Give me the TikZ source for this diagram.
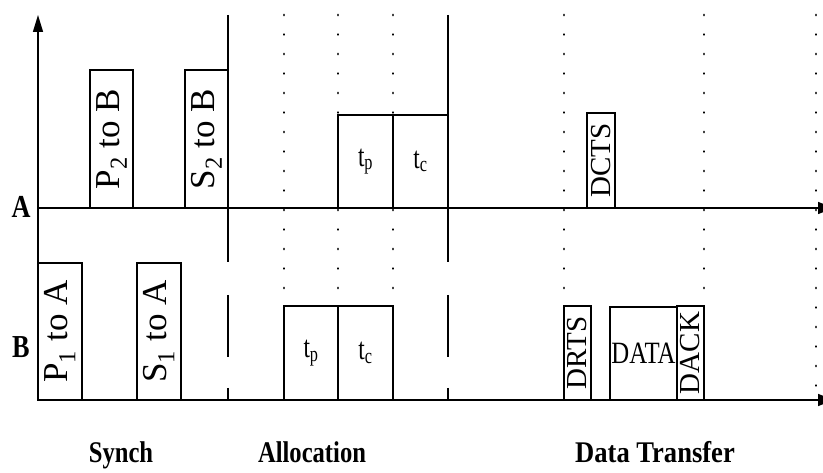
\documentclass[tikz,border=0pt]{standalone}
\usepackage{fontspec}
\setmainfont{Liberation Serif}
\usetikzlibrary{arrows.meta}

\begin{document}
\begin{tikzpicture}[x=1pt, y=-1pt]
  \tikzset{
    caja/.style={draw, line width=1.8pt, inner sep=0pt},
    cajav/.style={caja, rotate=90, font=\fontsize{35}{35}\selectfont},
    cajat/.style={caja, font=\fontsize{31}{31}\selectfont},
    eje/.style={line width=1.4pt},
    fase/.style={line width=2.6pt, dash pattern=on 247pt off 33pt on 62pt off 31pt on 12pt},
    punteado/.style={line width=2.8pt, line cap=round, dash pattern=on 0.01pt off 19.49pt},
    letra/.style={font=\bfseries\fontsize{30}{30}\selectfont, xscale=0.82}
  }
  \useasboundingbox (0,0) rectangle (823,473);

  % Líneas de puntos
  \foreach \x in {284,338,393,564,704,816}
    \draw[punteado] (\x,15) -- (\x,400);

  % Ejes
  \coordinate (origen) at (38,400);
  \coordinate (arriba) at (38,15);
  \coordinate (a0) at (38,208);
  \coordinate (a1) at (834,208);
  \coordinate (b1) at (834,400);
  \draw[eje, -{Triangle[length=17pt, width=10pt]}] (origen) -- (arriba);
  \draw[eje, -{Triangle[length=16pt, width=12pt]}] (a0) -- (a1);
  \draw[eje, -{Triangle[length=16pt, width=12pt]}] (origen) -- (b1);

  % Separadores de fases
  \coordinate (s1) at (228,15);
  \coordinate (s1b) at (228,400);
  \coordinate (s2) at (448,15);
  \coordinate (s2b) at (448,400);
  \draw[fase] (s1) -- (s1b);
  \draw[fase] (s2) -- (s2b);

  % Tramas de A
  \node[cajav, minimum width=138, minimum height=43] (p2b) at (111.5,139) {P\textsubscript{2} to B};
  \node[cajav, minimum width=138, minimum height=43] (s2b) at (206.5,139) {S\textsubscript{2} to B};
  \node[cajat, minimum width=55, minimum height=93] (tpA) at (365.5,161.5) {\scalebox{0.75}[1]{t\textsubscript{p}}};
  \node[cajat, minimum width=55, minimum height=93] (tcA) at (420.5,161.5) {\scalebox{0.75}[1]{t\textsubscript{c}}};
  \node[cajav, font=\fontsize{29}{29}\selectfont, minimum width=95, minimum height=28] (dcts) at (601,160.5) {DCTS};

  % Tramas de B
  \node[cajav, minimum width=137, minimum height=44] (p1a) at (60,331.5) {P\textsubscript{1} to A};
  \node[cajav, minimum width=137, minimum height=44] (s1a) at (159,331.5) {S\textsubscript{1} to A};
  \node[cajat, minimum width=54, minimum height=94] (tpB) at (311,353) {\scalebox{0.75}[1]{t\textsubscript{p}}};
  \node[cajat, minimum width=55, minimum height=94] (tcB) at (365.5,353) {\scalebox{0.75}[1]{t\textsubscript{c}}};
  \node[cajav, font=\fontsize{29}{29}\selectfont, minimum width=94, minimum height=27] (drts) at (577.5,353) {DRTS};
  \node[cajat, minimum width=67, minimum height=93] (data) at (643.5,353.5) {\scalebox{0.8}[1]{DATA}};
  \node[cajav, font=\fontsize{29}{29}\selectfont, minimum width=94, minimum height=27] (dack) at (690.5,353) {DACK};

  % Etiquetas
  \node[letra, font=\bfseries\fontsize{32}{32}\selectfont] (lA) at (21,207) {A};
  \node[letra, font=\bfseries\fontsize{32}{32}\selectfont] (lB) at (21,347) {B};
  \node[letra, anchor=base] (synch) at (121,462) {Synch};
  \node[letra, anchor=base] (alloc) at (312,462) {Allocation};
  \node[letra, anchor=base, xscale=1.08] (dt) at (655,462) {Data Transfer};
\end{tikzpicture}
\end{document}
